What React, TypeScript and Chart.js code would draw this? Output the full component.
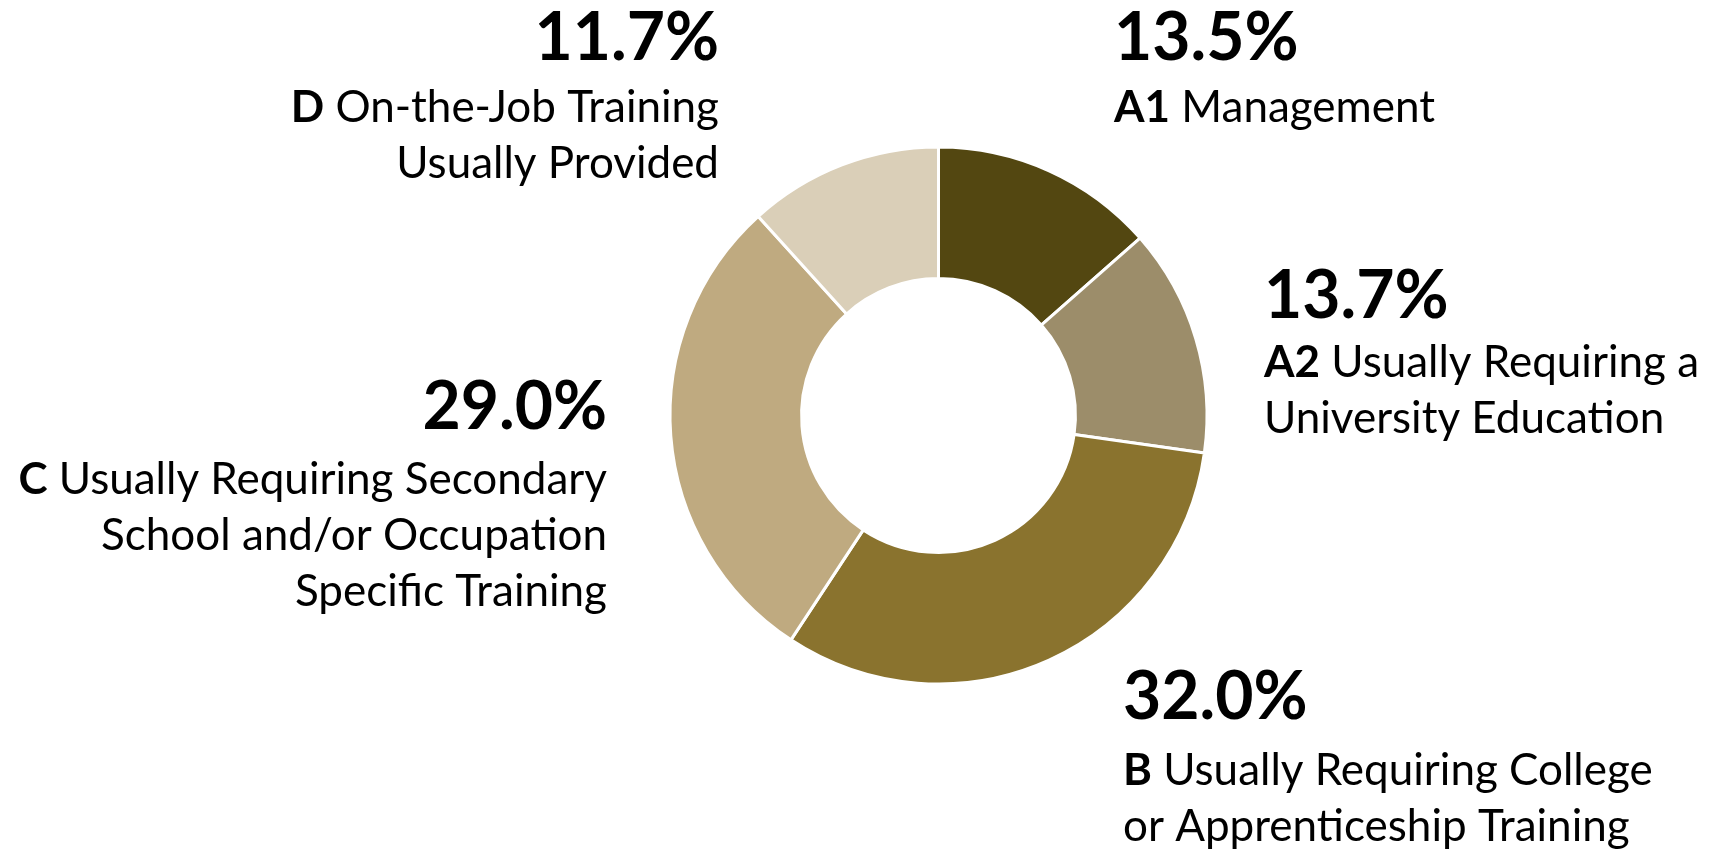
import React, { useEffect, useRef } from "react";
import { Chart, registerables } from "chart.js";

Chart.register(...registerables);

// ---- data ----
const categoryCodes = ["A1", "A2", "B", "C", "D"];
const categoryValues = [13.5, 13.7, 32.0, 29.0, 11.7];
const categoryDescriptions: string[][] = [
  ["Management"],
  ["Usually Requiring a", "University Education"],
  ["Usually Requiring College", "or Apprenticeship Training"],
  ["Usually Requiring Secondary", "School and/or Occupation", "Specific Training"],
  ["On-the-Job Training", "Usually Provided"],
];
const sliceColors = ["#534711", "#9C8D6A", "#8A732E", "#BFAA80", "#DACFB8"];

// ---- label layout (positions/styles) ----
const labelLayout = [
  { align: "left", x: 1114, pctY: 60, lineY: 122 },
  { align: "left", x: 1264, pctY: 318, lineY: 377 },
  { align: "left", x: 1123, pctY: 719, lineY: 785 },
  { align: "right", x: 607, pctY: 429, lineY: 494 },
  { align: "right", x: 719, pctY: 60, lineY: 122 },
];
const LINE_H = 56;
const FAMILY = "Lato, 'Open Sans', sans-serif";
const PCT_FONT = `700 66px ${FAMILY}`;
const BOLD_FONT = `700 44px ${FAMILY}`;
const REG_FONT = `400 44px ${FAMILY}`;

const labelPlugin = {
  id: "sideLabels",
  afterDraw(chart: any) {
    const ctx = chart.ctx as CanvasRenderingContext2D;
    ctx.save();
    ctx.fillStyle = "#000";
    ctx.textBaseline = "alphabetic";
    categoryCodes.forEach((code, i) => {
      const L = labelLayout[i];
      const pct = categoryValues[i].toFixed(1) + "%";
      ctx.font = PCT_FONT;
      ctx.textAlign = L.align as CanvasTextAlign;
      ctx.fillText(pct, L.x, L.pctY);
      categoryDescriptions[i].forEach((line, j) => {
        const y = L.lineY + j * LINE_H;
        if (j === 0) {
          ctx.font = BOLD_FONT;
          const wb = ctx.measureText(code).width;
          ctx.font = REG_FONT;
          const rest = " " + line;
          const wr = ctx.measureText(rest).width;
          const start = L.align === "left" ? L.x : L.x - (wb + wr);
          ctx.textAlign = "left";
          ctx.font = BOLD_FONT;
          ctx.fillText(code, start, y);
          ctx.font = REG_FONT;
          ctx.fillText(rest, start + wb, y);
        } else {
          ctx.font = REG_FONT;
          ctx.textAlign = L.align as CanvasTextAlign;
          ctx.fillText(line, L.x, y);
        }
      });
    });
    ctx.restore();
  },
};

export default function App() {
  const ref = useRef<HTMLCanvasElement | null>(null);
  useEffect(() => {
    if (!ref.current) return;
    const chart = new Chart(ref.current, {
      type: "doughnut",
      data: {
        labels: categoryCodes,
        datasets: [
          {
            data: categoryValues,
            backgroundColor: sliceColors,
            borderColor: "#FFFFFF",
            borderWidth: 3,
          },
        ],
      },
      options: {
        responsive: false,
        animation: false,
        cutout: "51%",
        layout: { padding: { left: 668.5, right: 500.5, top: 145.5, bottom: 164.5 } },
        plugins: { legend: { display: false }, tooltip: { enabled: false } },
      },
      plugins: [labelPlugin],
    });
    return () => chart.destroy();
  }, []);
  return (
    <div style={{ position: "fixed", left: 0, top: 0, width: 1709, height: 850, background: "#fff" }}>
      <canvas ref={ref} width={1709} height={850} style={{ display: "block" }} />
    </div>
  );
}
